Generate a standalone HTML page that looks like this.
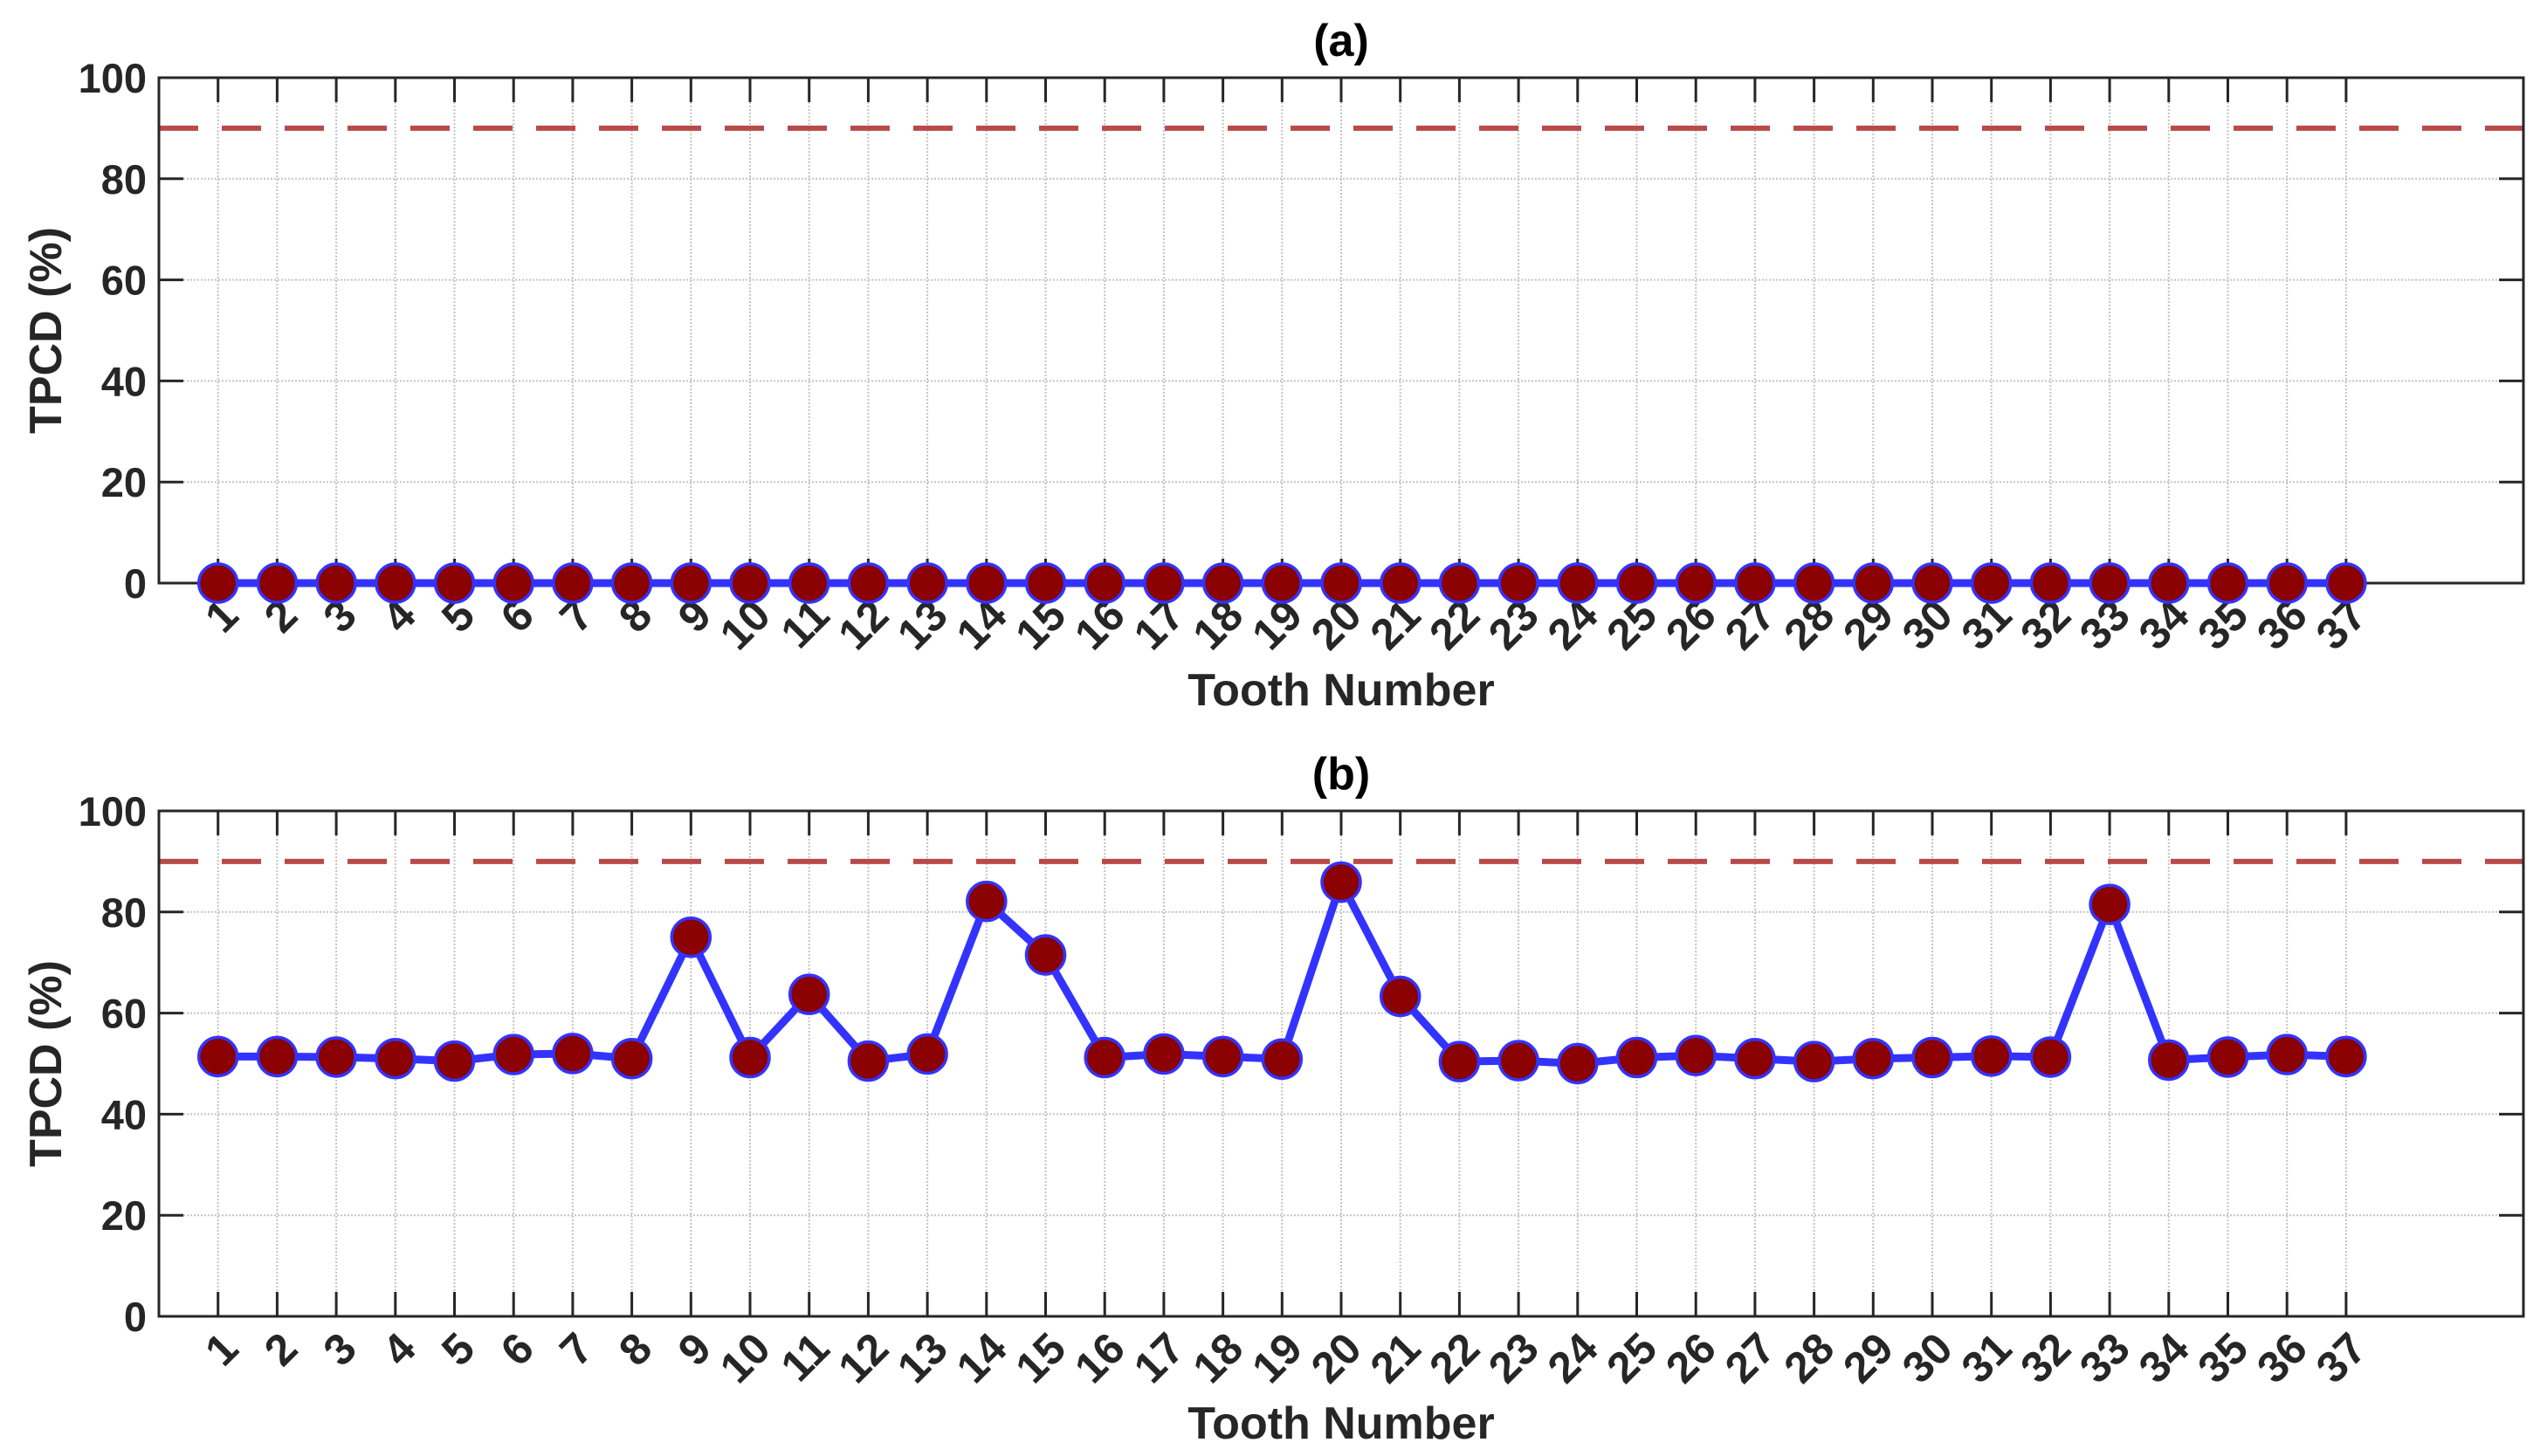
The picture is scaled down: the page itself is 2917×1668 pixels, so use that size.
<!DOCTYPE html>
<html><head><meta charset="utf-8"><style>
html,body{margin:0;padding:0;background:#fff;}
svg{display:block;font-family:"Liberation Sans",Arial,sans-serif;font-weight:bold;}
</style></head><body>
<svg id="fig" width="2917" height="1668" viewBox="0 0 2917 1668" xmlns="http://www.w3.org/2000/svg"></svg>
<script>
const teeth = [1,2,3,4,5,6,7,8,9,10,11,12,13,14,15,16,17,18,19,20,21,22,23,24,25,26,27,28,29,30,31,32,33,34,35,36,37];
const seriesA = [0,0,0,0,0,0,0,0,0,0,0,0,0,0,0,0,0,0,0,0,0,0,0,0,0,0,0,0,0,0,0,0,0,0,0,0,0];
const seriesB = [51.4,51.4,51.3,51,50.5,51.8,52,51,75,51.2,63.7,50.5,51.9,82.1,71.5,51.2,51.9,51.4,50.9,85.9,63.3,50.4,50.6,50,51.2,51.6,51,50.4,51,51.2,51.5,51.3,81.5,50.7,51.3,51.8,51.4];
const yTicks = [0,20,40,60,80,100];
const threshold = [90];
const panelTitles = ["(a)","(b)"];

const NS = "http://www.w3.org/2000/svg";
const svg = document.getElementById('fig');
function mk(tag, attrs, parent){const e=document.createElementNS(NS,tag);for(const k in attrs)e.setAttribute(k,attrs[k]);(parent||svg).appendChild(e);return e;}

const L=182, R=2890, XMIN=0, XMAX=40;
function xs(v){return L+(v-XMIN)/(XMAX-XMIN)*(R-L);}

function panel(top, bottom, data, title, key){
  const g=mk('g',{});
  
  
  const ys=v=>bottom-(v/100)*(bottom-top);
  teeth.forEach(t=>{const l=mk('line',{x1:xs(t),x2:xs(t),y1:top,y2:bottom,stroke:'#c4c4c4','stroke-width':2,'stroke-dasharray':'2,2'},g);
    
    });
  yTicks.forEach(v=>{const l=mk('line',{x1:L,x2:R,y1:ys(v),y2:ys(v),stroke:'#c4c4c4','stroke-width':2,'stroke-dasharray':'2,2'},g);
    
    });
  const th=mk('line',{x1:L,x2:R,y1:ys(threshold[0]),y2:ys(threshold[0]),stroke:'#b94a4a','stroke-width':6,'stroke-dasharray':'45,27'},g);
  
  
  teeth.forEach(t=>{
    mk('line',{x1:xs(t),x2:xs(t),y1:top,y2:top+28,stroke:'#262626','stroke-width':3},g);
    mk('line',{x1:xs(t),x2:xs(t),y1:bottom,y2:bottom-28,stroke:'#262626','stroke-width':3},g);
    const tx=mk('text',{x:0,y:0,'text-anchor':'end','font-size':50,fill:'#262626',transform:`translate(${xs(t)+26},${bottom+40}) rotate(-45)`},g);
    tx.textContent=t;
    
    
  });
  yTicks.forEach(v=>{
    mk('line',{x1:L,x2:L+28,y1:ys(v),y2:ys(v),stroke:'#262626','stroke-width':3},g);
    mk('line',{x1:R,x2:R-28,y1:ys(v),y2:ys(v),stroke:'#262626','stroke-width':3},g);
    const tx=mk('text',{x:168,y:ys(v)+17,'text-anchor':'end','font-size':47,fill:'#262626'},g);
    tx.textContent=v;
    
    
  });
  const bx=mk('rect',{x:L,y:top,width:R-L,height:bottom-top,fill:'none',stroke:'#262626','stroke-width':3},g);
  
  
  const pts=teeth.map((t,i)=>xs(t)+','+ys(data[i])).join(' ');
  const pl=mk('polyline',{points:pts,fill:'none',stroke:'#3333ff','stroke-width':9,'stroke-linejoin':'round'},g);
  
  
  teeth.forEach((t,i)=>{
    const c=mk('ellipse',{cx:xs(t),cy:ys(data[i]),rx:22,ry:22,fill:'#8b0000',stroke:'#3333ff','stroke-width':3.5},g);
    
    
  });
  const tt=mk('text',{x:1536,y:top-25,'text-anchor':'middle','font-size':52,fill:'#000'},g);
  tt.textContent=title;
  
  
  const xl=mk('text',{x:1536,y:bottom+140,'text-anchor':'middle','font-size':52,fill:'#262626'},g);
  xl.textContent='Tooth Number';
  
  
  const yl=mk('text',{x:0,y:0,'text-anchor':'middle','font-size':52,fill:'#262626',transform:`translate(70,${(top+bottom)/2}) rotate(-90)`},g);
  yl.textContent='TPCD (%)';
  
  
}
panel(89, 668, seriesA, panelTitles[0], 'a');
panel(929, 1508, seriesB, panelTitles[1], 'b');
</script>
</body></html>
